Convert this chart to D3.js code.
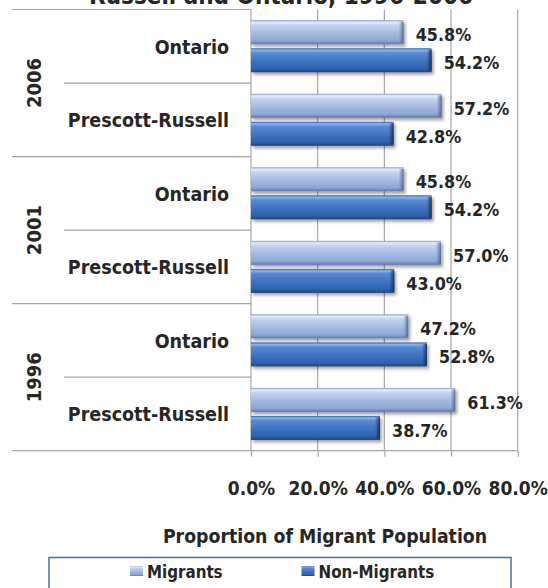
<!DOCTYPE html>
<html>
<head>
<meta charset="utf-8">
<script src="https://cdn.jsdelivr.net/npm/d3@7"></script>
<style>
  html, body { margin: 0; padding: 0; background: #ffffff; }
  svg { display: block; }
  text { font-family: "DejaVu Sans Condensed", "DejaVu Sans", Verdana, sans-serif; font-weight: bold; fill: #262626; }
</style>
</head>
<body>
<div id="chart"></div>
<script>
// ---- data ----
const years = ["2006", "2001", "1996"];
const regions = ["Ontario", "Prescott-Russell"];
const series = ["Migrants", "Non-Migrants"];
const migrants = [45.8, 57.2, 45.8, 57.0, 47.2, 61.3];
const nonMigrants = [54.2, 42.8, 54.2, 43.0, 52.8, 38.7];
const xTicks = [0, 20, 40, 60, 80];
const titleText = "Russell and Ontario, 1996-2006";
const axisTitle = "Proportion of Migrant Population";

// categories top to bottom
const cats = [];
years.forEach(y => regions.forEach(r => cats.push({ year: y, region: r, key: y + "|" + r })));
cats.forEach((c, i) => { c.values = { "Migrants": migrants[i], "Non-Migrants": nonMigrants[i] }; });

const W = 548, H = 588;
const svg = d3.select("#chart").append("svg").attr("width", W).attr("height", H);

const x0 = 251, x1 = 517.7, yTop = 9.5, yBot = 450.7;
const x = d3.scaleLinear().domain([0, 80]).range([x0, x1]);
const y = d3.scaleBand().domain(cats.map(c => c.key)).range([yTop, yBot]).padding(0);
const yInner = d3.scaleBand().domain(series).range([0, y.bandwidth()]).paddingInner(0.143).paddingOuter(0.384);

// gradients
const defs = svg.append("defs");
function vGrad(id, stops) {
  const g = defs.append("linearGradient").attr("id", id).attr("x1", 0).attr("y1", 0).attr("x2", 0).attr("y2", 1);
  stops.forEach(s => g.append("stop").attr("offset", s[0]).attr("stop-color", s[1]));
}
function hGrad(id, stops) {
  const g = defs.append("linearGradient").attr("id", id).attr("x1", 0).attr("y1", 0).attr("x2", 1).attr("y2", 0);
  stops.forEach(s => g.append("stop").attr("offset", s[0]).attr("stop-color", s[1]));
}
vGrad("gMig", [[0, "#7e97c6"], [0.08, "#e6eefa"], [0.2, "#c3d4ef"], [0.55, "#a4b9e0"], [0.85, "#8ea6d3"], [1, "#5f79ac"]]);
vGrad("gNon", [[0, "#2f5d9e"], [0.08, "#8db3ea"], [0.2, "#5a8ad2"], [0.55, "#3d72c0"], [0.85, "#2f62ad"], [1, "#1d4380"]]);
hGrad("eMig", [[0, "rgba(90,115,165,0)"], [1, "rgba(70,95,145,0.9)"]]);
hGrad("eNon", [[0, "rgba(20,50,100,0)"], [1, "rgba(15,40,85,0.9)"]]);
const shadow = defs.append("filter").attr("id", "shadow").attr("x", "-10%").attr("y", "-20%").attr("width", "130%").attr("height", "160%");
shadow.append("feDropShadow").attr("dx", 2).attr("dy", 2.5).attr("stdDeviation", 1.6).attr("flood-color", "#000").attr("flood-opacity", 0.35);

const lineColor = "#a6a6a6";
const FONT = '"DejaVu Sans Condensed", "DejaVu Sans", sans-serif';

// gridlines
svg.append("g").selectAll("line").data(xTicks.filter(t => t > 0)).join("line")
  .attr("x1", d => x(d)).attr("x2", d => x(d)).attr("y1", yTop).attr("y2", yBot)
  .attr("stroke", lineColor).attr("stroke-width", 1.2);

// x axis
const xAxis = d3.axisBottom(x).tickValues(xTicks).tickSize(6).tickFormat(d => d3.format(".1f")(d) + "%");
const gx = svg.append("g").attr("transform", `translate(0,${yBot})`).call(xAxis);
gx.select(".domain").remove();
gx.selectAll(".tick line").attr("stroke", lineColor).attr("stroke-width", 1.2);
gx.selectAll(".tick text").attr("y", 44.5).attr("dy", 0).style("font-size", "19px").attr("fill", "#262626")
  .style("font-family", FONT).style("font-weight", "bold");
svg.append("line").attr("x1", 12).attr("x2", x1).attr("y1", yBot).attr("y2", yBot).attr("stroke", lineColor).attr("stroke-width", 1.2);

// category axis line
svg.append("line").attr("x1", x0).attr("x2", x0).attr("y1", yTop).attr("y2", yBot).attr("stroke", lineColor).attr("stroke-width", 1.2);

// separators
const groupBounds = years.map((yr, i) => y(yr + "|" + regions[0]));
svg.append("g").selectAll("line").data(groupBounds).join("line")
  .attr("x1", 12).attr("x2", x0).attr("y1", d => d).attr("y2", d => d).attr("stroke", lineColor).attr("stroke-width", 1.2);
const innerBounds = years.map(yr => y(yr + "|" + regions[1]));
svg.append("g").selectAll("line").data(innerBounds).join("line")
  .attr("x1", 64).attr("x2", x0).attr("y1", d => d).attr("y2", d => d).attr("stroke", lineColor).attr("stroke-width", 1.2);

// category labels
svg.append("g").selectAll("text").data(cats).join("text")
  .attr("x", 229).attr("y", d => y(d.key) + y.bandwidth() / 2 + 1)
  .attr("text-anchor", "end").attr("dominant-baseline", "central")
  .style("font-size", "19.5px").text(d => d.region);

// year labels
svg.append("g").selectAll("text").data(years).join("text")
  .attr("transform", yr => `translate(33.5,${y(yr + "|" + regions[1])}) rotate(-90)`)
  .attr("text-anchor", "middle").attr("dominant-baseline", "central")
  .style("font-size", "20px").text(d => d);

// bars
const flat = [];
cats.forEach(c => series.forEach(s => flat.push({ key: c.key, s, v: c.values[s] })));
const barG = svg.append("g");
const bars = barG.selectAll("g").data(flat).join("g");
bars.append("rect")
  .attr("x", x(0)).attr("y", d => y(d.key) + yInner(d.s))
  .attr("width", d => x(d.v) - x(0)).attr("height", yInner.bandwidth())
  .attr("fill", d => d.s === "Migrants" ? "url(#gMig)" : "url(#gNon)")
  .attr("filter", "url(#shadow)");
bars.append("rect")
  .attr("x", d => x(d.v) - 5).attr("y", d => y(d.key) + yInner(d.s) + 1.5)
  .attr("width", 5).attr("height", yInner.bandwidth() - 3)
  .attr("fill", d => d.s === "Migrants" ? "url(#eMig)" : "url(#eNon)");

// value labels
svg.append("g").selectAll("text").data(flat).join("text")
  .attr("x", d => x(d.v) + 12).attr("y", d => y(d.key) + yInner(d.s) + yInner.bandwidth() / 2 + 2.5)
  .attr("dominant-baseline", "central").style("font-size", "17.8px")
  .text(d => d3.format(".1f")(d.v) + "%");

// title (partially visible, as in the reference)
svg.append("text").attr("x", 281).attr("y", 4).attr("text-anchor", "middle")
  .style("font-size", "24px").text(titleText);

// axis title
svg.append("text").attr("x", 325).attr("y", 543).attr("text-anchor", "middle")
  .style("font-size", "19.3px").text(axisTitle);

// legend
svg.append("rect").attr("x", 49).attr("y", 557.5).attr("width", 462).attr("height", 40)
  .attr("fill", "#fff").attr("stroke", "#4a6d9a").attr("stroke-width", 1.5);
const legX = [130, 301.5];
const leg = svg.append("g").selectAll("g").data(series).join("g")
  .attr("transform", (d, i) => `translate(${legX[i]},566)`);
leg.append("rect").attr("width", 13).attr("height", 10)
  .attr("fill", d => d === "Migrants" ? "url(#gMig)" : "url(#gNon)");
leg.append("text").attr("x", 17).attr("y", 6).attr("dominant-baseline", "central")
  .style("font-size", "16.8px").text(d => d);
</script>
</body>
</html>
